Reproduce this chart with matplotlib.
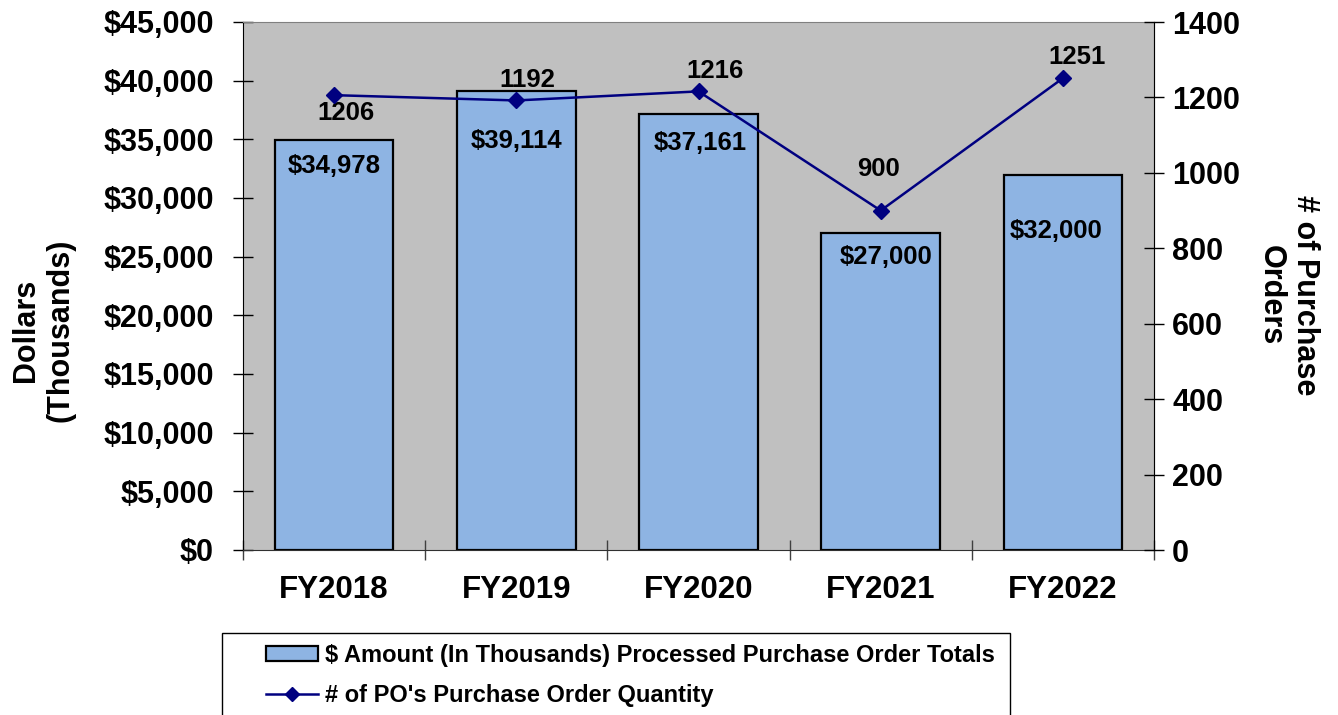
import numpy as np
import matplotlib
matplotlib.use("Agg")
import matplotlib.pyplot as plt
from matplotlib.patches import Rectangle
from matplotlib.lines import Line2D

# data
years = ["FY2018", "FY2019", "FY2020", "FY2021", "FY2022"]
dollars = [34978, 39114, 37161, 27000, 32000]
po_count = [1206, 1192, 1216, 900, 1251]
dollar_ticks = [0, 5000, 10000, 15000, 20000, 25000, 30000, 35000, 40000, 45000]
po_ticks = [0, 200, 400, 600, 800, 1000, 1200, 1400]

bar_label = "$ Amount (In Thousands) Processed Purchase Order Totals"
line_label = "# of PO's Purchase Order Quantity"

# label offsets in pixels (dx, dy), dy negative = below
bar_offsets = [(0, -26), (0, -50), (2, -29), (5, -24), (-7, -56)]
line_offsets = [(12, -18), (11, 20), (16, 20), (-2, 42), (14, 21)]

W, H = 1338, 715
plt.rcParams['font.family'] = ['Liberation Sans', 'DejaVu Sans']
plt.rcParams['font.weight'] = 'bold'

fig = plt.figure(figsize=(W / 100, H / 100), dpi=100)
ax = fig.add_axes([243 / W, 1 - 550 / H, (1154 - 243) / W, (550 - 22) / H])
ax.set_facecolor('#C0C0C0')

x = np.arange(len(years))
ax.bar(x, dollars, width=0.65, color='#8EB4E3', edgecolor='black', linewidth=1.6, zorder=2)
ax.set_xlim(-0.5, len(years) - 0.5)
ax.set_ylim(0, 45000)
ax.set_yticks(dollar_ticks)
ax.set_yticklabels(["$" + f"{v:,}" for v in dollar_ticks])
ax.set_xticks(x)
ax.set_xticklabels(years)
ax.set_xticks(np.arange(-0.5, len(years)), minor=True)
ax.tick_params(axis='x', which='major', length=0, pad=18, labelsize=22.5)
ax.tick_params(axis='x', which='minor', direction='inout', length=14, width=1, color='#404040')
ax.tick_params(axis='y', direction='inout', length=14, width=1, pad=14, labelsize=22)

for s in ['top', 'right']:
    ax.spines[s].set_color('#808080')
ax.spines['left'].set_color('black')
ax.spines['bottom'].set_color('#303030')

px = 0.72  # pixels -> points at 100 dpi
for i, v in enumerate(dollars):
    dx, dy = bar_offsets[i]
    ax.annotate("$" + f"{v:,}", (x[i], v), xytext=(dx * px, dy * px), textcoords='offset points',
                ha='center', va='center', fontsize=18.5, fontweight='bold', zorder=3)

ax2 = ax.twinx()
ax2.plot(x, po_count, color='#000080', linewidth=1.8, marker='D', markersize=8, zorder=4)
ax2.set_ylim(0, 1400)
ax2.set_yticks(po_ticks)
ax2.tick_params(axis='y', direction='inout', length=14, width=1, pad=6, labelsize=22)
ax2.spines['right'].set_color('black')
ax2.spines['top'].set_visible(False)
ax2.spines['left'].set_visible(False)
ax2.spines['bottom'].set_visible(False)

for i, v in enumerate(po_count):
    dx, dy = line_offsets[i]
    ax2.annotate(str(v), (x[i], v), xytext=(dx * px, dy * px), textcoords='offset points',
                 ha='center', va='center', fontsize=18.5, fontweight='bold')

# axis titles
fig.text(43 / W, 1 - 330 / H, "Dollars\n(Thousands)", rotation=90, ha='center', va='center',
         fontsize=22, fontweight='bold', multialignment='center')
fig.text(1288 / W, 1 - 295 / H, "# of Purchase\nOrders", rotation=-90, ha='center', va='center',
         fontsize=22, fontweight='bold', multialignment='center')

# legend
handles = [
    Rectangle((0, 0), 1, 1, facecolor='#8EB4E3', edgecolor='black', linewidth=1.6),
    Line2D([0], [0], color='#000080', linewidth=1.8, marker='D', markersize=7),
]
fig.legend(handles, [bar_label, line_label], loc='upper left',
           bbox_to_anchor=(266 / W, 1 - 644 / H), frameon=False,
           prop={'weight': 'bold', 'size': 17}, handlelength=2.2, handleheight=0.6,
           handletextpad=0.3, labelspacing=0.72, borderpad=0, borderaxespad=0)
fig.add_artist(Rectangle((222 / W, -0.05), (1010 - 222) / W, 0.05 + (715 - 633) / H,
                         transform=fig.transFigure, fill=False, edgecolor='black', linewidth=1))

fig.savefig("out.png", dpi=100)
